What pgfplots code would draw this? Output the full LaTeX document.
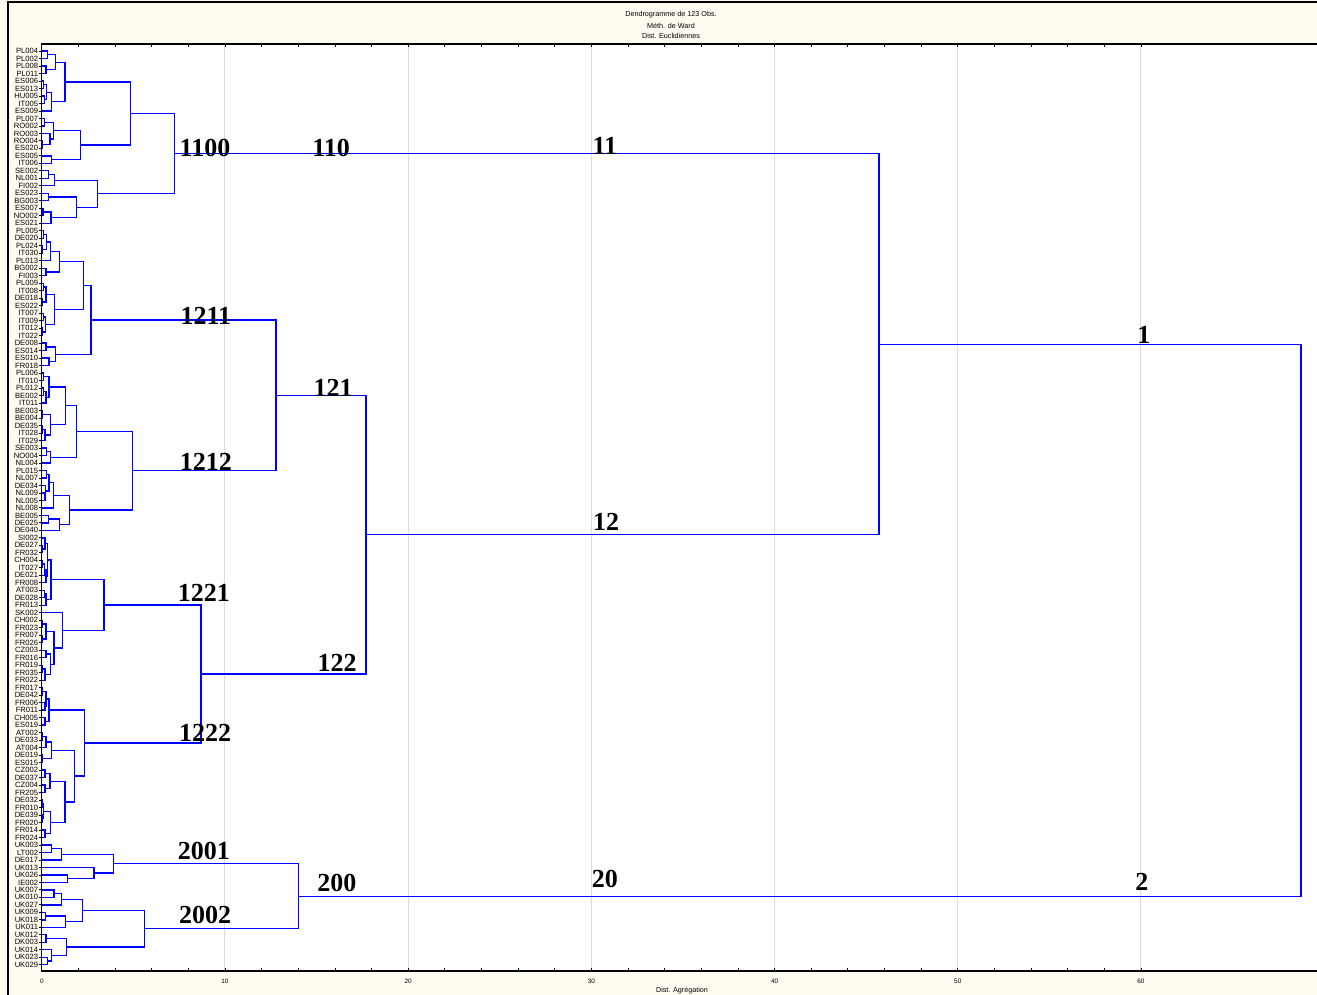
\documentclass[border=0pt]{standalone}
\usepackage{pgfplots}
\pgfplotsset{compat=1.18}
\usepackage{fontspec}
\newfontfamily\arial{Liberation Sans}
\newfontfamily\tnr{Liberation Serif}
\definecolor{cream}{RGB}{255,251,240}
\definecolor{dblue}{RGB}{0,0,255}
\definecolor{gridgray}{RGB}{218,218,218}
\pgfplotsset{dl/.style={draw=dblue, line width=0.65pt, mark=none, solid}}
\begin{document}
\begin{tikzpicture}[x=1pt,y=1pt]
\fill[cream] (0,0) rectangle (658.5,497.5);
\begin{axis}[
  at={(20.9pt,12pt)}, anchor=south west,
  scale only axis, width=638.6pt, height=463.5pt,
  xmin=0, xmax=69.72, ymin=0.065, ymax=123.83, y dir=reverse,
  axis background/.style={fill=white},
  axis line style={black, line width=0.6pt},
  xtick={0,10,...,60}, minor x tick num=4,
  ytick={1,...,123}, ytick pos=left,
  yticklabels={PL004,PL002,PL008,PL011,ES006,ES013,HU005,IT005,ES009,PL007,RO002,RO003,RO004,ES020,ES005,IT006,SE002,NL001,FI002,ES023,BG003,ES007,NO002,ES021,PL005,DE020,PL024,IT030,PL013,BG002,FI003,PL009,IT008,DE018,ES022,IT007,IT009,IT012,IT022,DE008,ES014,ES010,FR018,PL006,IT010,PL012,BE002,IT011,BE003,BE004,DE035,IT028,IT029,SE003,NO004,NL004,PL015,NL007,DE034,NL009,NL005,NL008,BE005,DE025,DE040,SI002,DE027,FR032,CH004,IT027,DE021,FR008,AT003,DE028,FR013,SK002,CH002,FR023,FR007,FR026,CZ003,FR016,FR019,FR035,FR022,FR017,DE042,FR006,FR011,CH005,ES019,AT002,DE033,AT004,DE019,ES015,CZ002,DE037,CZ004,FR205,DE032,FR010,DE039,FR020,FR014,FR024,UK003,LT002,DE017,UK013,UK026,IE002,UK007,UK010,UK027,UK009,UK018,UK011,UK012,DK003,UK014,UK023,UK029},
  xmajorgrids, major grid style={gridgray, line width=0.5pt},
  tick align=inside,
  major tick length=1.5pt, minor tick length=1.5pt,
  tick style={black, line width=0.4pt},
  y tick style={xshift=-1.2pt},
  /pgf/number format/assume math mode=true,
  xticklabel style={font=\arial\fontsize{3.2}{3.5}\selectfont, yshift=-0.3pt},
  yticklabel style={font=\arial\fontsize{3.8}{4}\selectfont, inner sep=0.6pt, xshift=-1.1pt},
]
% cluster 1100
\addplot[dl] coordinates {(0,1) (0.30,1) (0.30,2) (0,2)};
\addplot[dl] coordinates {(0,3) (0.23,3) (0.23,4) (0,4)};
\addplot[dl] coordinates {(0.30,1.5) (0.76,1.5) (0.76,3.5) (0.23,3.5)};
\addplot[dl] coordinates {(0,5) (0.10,5) (0.10,6) (0,6)};
\addplot[dl] coordinates {(0,7) (0.16,7) (0.16,8) (0,8)};
\addplot[dl] coordinates {(0.10,5.5) (0.27,5.5) (0.27,7.5) (0.16,7.5)};
\addplot[dl] coordinates {(0.27,6.5) (0.54,6.5) (0.54,9) (0,9)};
\addplot[dl] coordinates {(0.76,2.5) (1.27,2.5) (1.27,7.75) (0.54,7.75)};
\addplot[dl] coordinates {(0,10) (0.16,10) (0.16,11) (0,11)};
\addplot[dl] coordinates {(0,13) (0.04,13) (0.04,14) (0,14)};
\addplot[dl] coordinates {(0,12) (0.45,12) (0.45,13.5) (0.04,13.5)};
\addplot[dl] coordinates {(0.16,10.5) (0.63,10.5) (0.63,12.75) (0.45,12.75)};
\addplot[dl] coordinates {(0,15) (0.52,15) (0.52,16) (0,16)};
\addplot[dl] coordinates {(0.63,11.625) (2.10,11.625) (2.10,15.5) (0.52,15.5)};
\addplot[dl] coordinates {(1.27,5.125) (4.85,5.125) (4.85,13.5625) (2.10,13.5625)};
\addplot[dl] coordinates {(0,17) (0.36,17) (0.36,18) (0,18)};
\addplot[dl] coordinates {(0.36,17.5) (0.68,17.5) (0.68,19) (0,19)};
\addplot[dl] coordinates {(0,20) (0.36,20) (0.36,21) (0,21)};
\addplot[dl] coordinates {(0,22) (0.07,22) (0.07,23) (0,23)};
\addplot[dl] coordinates {(0.07,22.5) (0.50,22.5) (0.50,24) (0,24)};
\addplot[dl] coordinates {(0.36,20.5) (1.88,20.5) (1.88,23.25) (0.50,23.25)};
\addplot[dl] coordinates {(0.68,18.25) (3.05,18.25) (3.05,21.875) (1.88,21.875)};
\addplot[dl] coordinates {(4.85,9.34375) (7.23,9.34375) (7.23,20.0625) (3.05,20.0625)};
% cluster 1211
\addplot[dl] coordinates {(0,25) (0.08,25) (0.08,26) (0,26)};
\addplot[dl] coordinates {(0,27) (0.03,27) (0.03,28) (0,28)};
\addplot[dl] coordinates {(0.08,25.5) (0.27,25.5) (0.27,27.5) (0.03,27.5)};
\addplot[dl] coordinates {(0.27,26.5) (0.48,26.5) (0.48,29) (0,29)};
\addplot[dl] coordinates {(0,30) (0.23,30) (0.23,31) (0,31)};
\addplot[dl] coordinates {(0.48,27.75) (0.96,27.75) (0.96,30.5) (0.23,30.5)};
\addplot[dl] coordinates {(0,32) (0.08,32) (0.08,33) (0,33)};
\addplot[dl] coordinates {(0,34) (0.03,34) (0.03,35) (0,35)};
\addplot[dl] coordinates {(0.08,32.5) (0.23,32.5) (0.23,34.5) (0.03,34.5)};
\addplot[dl] coordinates {(0,36) (0.08,36) (0.08,37) (0,37)};
\addplot[dl] coordinates {(0,38) (0.03,38) (0.03,39) (0,39)};
\addplot[dl] coordinates {(0.08,36.5) (0.20,36.5) (0.20,38.5) (0.03,38.5)};
\addplot[dl] coordinates {(0.23,33.5) (0.68,33.5) (0.68,37.5) (0.20,37.5)};
\addplot[dl] coordinates {(0.96,29.125) (2.26,29.125) (2.26,35.5) (0.68,35.5)};
\addplot[dl] coordinates {(0,40) (0.23,40) (0.23,41) (0,41)};
\addplot[dl] coordinates {(0,42) (0.39,42) (0.39,43) (0,43)};
\addplot[dl] coordinates {(0.23,40.5) (0.74,40.5) (0.74,42.5) (0.39,42.5)};
\addplot[dl] coordinates {(2.26,32.3125) (2.69,32.3125) (2.69,41.5) (0.74,41.5)};
% cluster 1212
\addplot[dl] coordinates {(0,44) (0.10,44) (0.10,45) (0,45)};
\addplot[dl] coordinates {(0,46) (0.08,46) (0.08,47) (0,47)};
\addplot[dl] coordinates {(0.08,46.5) (0.23,46.5) (0.23,48) (0,48)};
\addplot[dl] coordinates {(0.10,44.5) (0.39,44.5) (0.39,47.25) (0.23,47.25)};
\addplot[dl] coordinates {(0,49) (0.03,49) (0.03,50) (0,50)};
\addplot[dl] coordinates {(0,51) (0.05,51) (0.05,52) (0,52)};
\addplot[dl] coordinates {(0.05,51.5) (0.17,51.5) (0.17,53) (0,53)};
\addplot[dl] coordinates {(0.03,49.5) (0.47,49.5) (0.47,52.25) (0.17,52.25)};
\addplot[dl] coordinates {(0.39,45.875) (1.30,45.875) (1.30,50.875) (0.47,50.875)};
\addplot[dl] coordinates {(0,54) (0.27,54) (0.27,55) (0,55)};
\addplot[dl] coordinates {(0.27,54.5) (0.48,54.5) (0.48,56) (0,56)};
\addplot[dl] coordinates {(1.30,48.375) (1.88,48.375) (1.88,55.25) (0.48,55.25)};
\addplot[dl] coordinates {(0,57) (0.27,57) (0.27,58) (0,58)};
\addplot[dl] coordinates {(0,60) (0.17,60) (0.17,61) (0,61)};
\addplot[dl] coordinates {(0,59) (0.22,59) (0.22,60.5) (0.17,60.5)};
\addplot[dl] coordinates {(0.27,57.5) (0.39,57.5) (0.39,59.75) (0.22,59.75)};
\addplot[dl] coordinates {(0.39,58.625) (0.63,58.625) (0.63,62) (0,62)};
\addplot[dl] coordinates {(0,63) (0.36,63) (0.36,64) (0,64)};
\addplot[dl] coordinates {(0.36,63.5) (0.95,63.5) (0.95,65) (0,65)};
\addplot[dl] coordinates {(0.63,60.3125) (1.50,60.3125) (1.50,64.25) (0.95,64.25)};
\addplot[dl] coordinates {(1.88,51.8125) (4.94,51.8125) (4.94,62.28125) (1.50,62.28125)};
% node 121
\addplot[dl] coordinates {(2.69,36.90625) (12.78,36.90625) (12.78,57.046875) (4.94,57.046875)};
% cluster 1221
\addplot[dl] coordinates {(0,67) (0.03,67) (0.03,68) (0,68)};
\addplot[dl] coordinates {(0,66) (0.17,66) (0.17,67.5) (0.03,67.5)};
\addplot[dl] coordinates {(0,69) (0.03,69) (0.03,70) (0,70)};
\addplot[dl] coordinates {(0.03,69.5) (0.13,69.5) (0.13,71) (0,71)};
\addplot[dl] coordinates {(0.13,70.25) (0.23,70.25) (0.23,72) (0,72)};
\addplot[dl] coordinates {(0.17,66.75) (0.30,66.75) (0.30,71.125) (0.23,71.125)};
\addplot[dl] coordinates {(0,73) (0.13,73) (0.13,74) (0,74)};
\addplot[dl] coordinates {(0.13,73.5) (0.23,73.5) (0.23,75) (0,75)};
\addplot[dl] coordinates {(0.30,68.9375) (0.50,68.9375) (0.50,74.25) (0.23,74.25)};
\addplot[dl] coordinates {(0,77) (0.05,77) (0.05,78) (0,78)};
\addplot[dl] coordinates {(0,79) (0.05,79) (0.05,80) (0,80)};
\addplot[dl] coordinates {(0.05,77.5) (0.23,77.5) (0.23,79.5) (0.05,79.5)};
\addplot[dl] coordinates {(0,81) (0.23,81) (0.23,82) (0,82)};
\addplot[dl] coordinates {(0,83) (0.05,83) (0.05,84) (0,84)};
\addplot[dl] coordinates {(0.05,83.5) (0.17,83.5) (0.17,85) (0,85)};
\addplot[dl] coordinates {(0.23,81.5) (0.48,81.5) (0.48,84.25) (0.17,84.25)};
\addplot[dl] coordinates {(0.23,78.5) (0.66,78.5) (0.66,82.875) (0.48,82.875)};
\addplot[dl] coordinates {(0,76) (1.14,76) (1.14,80.6875) (0.66,80.6875)};
\addplot[dl] coordinates {(0.50,71.59375) (3.39,71.59375) (3.39,78.34375) (1.14,78.34375)};
% cluster 1222
\addplot[dl] coordinates {(0,86) (0.03,86) (0.03,87) (0,87)};
\addplot[dl] coordinates {(0,88) (0.17,88) (0.17,89) (0,89)};
\addplot[dl] coordinates {(0.03,86.5) (0.23,86.5) (0.23,88.5) (0.17,88.5)};
\addplot[dl] coordinates {(0,90) (0.17,90) (0.17,91) (0,91)};
\addplot[dl] coordinates {(0.23,87.5) (0.39,87.5) (0.39,90.5) (0.17,90.5)};
\addplot[dl] coordinates {(0,92) (0.05,92) (0.05,93) (0,93)};
\addplot[dl] coordinates {(0.05,92.5) (0.23,92.5) (0.23,94) (0,94)};
\addplot[dl] coordinates {(0,95) (0.03,95) (0.03,96) (0,96)};
\addplot[dl] coordinates {(0.23,93.25) (0.54,93.25) (0.54,95.5) (0.03,95.5)};
\addplot[dl] coordinates {(0,97) (0.17,97) (0.17,98) (0,98)};
\addplot[dl] coordinates {(0,99) (0.17,99) (0.17,100) (0,100)};
\addplot[dl] coordinates {(0.17,97.5) (0.45,97.5) (0.45,99.5) (0.17,99.5)};
\addplot[dl] coordinates {(0,101) (0.03,101) (0.03,102) (0,102)};
\addplot[dl] coordinates {(0,103) (0.05,103) (0.05,104) (0,104)};
\addplot[dl] coordinates {(0.03,101.5) (0.10,101.5) (0.10,103.5) (0.05,103.5)};
\addplot[dl] coordinates {(0,105) (0.17,105) (0.17,106) (0,106)};
\addplot[dl] coordinates {(0.10,102.5) (0.48,102.5) (0.48,105.5) (0.17,105.5)};
\addplot[dl] coordinates {(0.45,98.5) (1.27,98.5) (1.27,104) (0.48,104)};
\addplot[dl] coordinates {(0.54,94.375) (1.77,94.375) (1.77,101.25) (1.27,101.25)};
\addplot[dl] coordinates {(0.39,89) (2.32,89) (2.32,97.8125) (1.77,97.8125)};
% nodes 122, 12, 1
\addplot[dl] coordinates {(3.39,74.96875) (8.69,74.96875) (8.69,93.40625) (2.32,93.40625)};
\addplot[dl] coordinates {(12.78,46.9765625) (17.70,46.9765625) (17.70,84.1875) (8.69,84.1875)};
\addplot[dl] coordinates {(7.23,14.703125) (45.70,14.703125) (45.70,65.58203) (17.70,65.58203)};
% cluster 2
\addplot[dl] coordinates {(0,107) (0.54,107) (0.54,108) (0,108)};
\addplot[dl] coordinates {(0.54,107.5) (1.08,107.5) (1.08,109) (0,109)};
\addplot[dl] coordinates {(0,111) (1.39,111) (1.39,112) (0,112)};
\addplot[dl] coordinates {(0,110) (2.85,110) (2.85,111.5) (1.39,111.5)};
\addplot[dl] coordinates {(1.08,108.25) (3.90,108.25) (3.90,110.75) (2.85,110.75)};
\addplot[dl] coordinates {(0,113) (0.66,113) (0.66,114) (0,114)};
\addplot[dl] coordinates {(0.66,113.5) (1.08,113.5) (1.08,115) (0,115)};
\addplot[dl] coordinates {(0,116) (0.21,116) (0.21,117) (0,117)};
\addplot[dl] coordinates {(0.21,116.5) (1.28,116.5) (1.28,118) (0,118)};
\addplot[dl] coordinates {(1.08,114.25) (2.23,114.25) (2.23,117.25) (1.28,117.25)};
\addplot[dl] coordinates {(0,119) (0.23,119) (0.23,120) (0,120)};
\addplot[dl] coordinates {(0,122) (0.32,122) (0.32,123) (0,123)};
\addplot[dl] coordinates {(0,121) (0.54,121) (0.54,122.5) (0.32,122.5)};
\addplot[dl] coordinates {(0.23,119.5) (1.36,119.5) (1.36,121.75) (0.54,121.75)};
\addplot[dl] coordinates {(2.23,115.75) (5.60,115.75) (5.60,120.625) (1.36,120.625)};
\addplot[dl] coordinates {(3.90,109.5) (14.02,109.5) (14.02,118.1875) (5.60,118.1875)};
% root
\addplot[dl] coordinates {(45.70,40.14258) (68.73,40.14258) (68.73,113.84375) (14.02,113.84375)};
% group labels
\begin{scope}[every node/.style={font=\tnr\bfseries\fontsize{13}{13}\selectfont, inner sep=0pt, text=black}]
\node at (axis cs:8.91,13.95) {1100};
\node at (axis cs:15.79,13.95) {110};
\node at (axis cs:30.74,13.68) {11};
\node at (axis cs:8.96,36.38) {1211};
\node at (axis cs:15.90,46.0) {121};
\node at (axis cs:8.96,55.87) {1212};
\node at (axis cs:30.80,63.88) {12};
\node at (axis cs:60.16,38.92) {1};
\node at (axis cs:8.85,73.37) {1221};
\node at (axis cs:16.12,82.71) {122};
\node at (axis cs:8.91,92.06) {1222};
\node at (axis cs:8.85,107.74) {2001};
\node at (axis cs:8.91,116.35) {2002};
\node at (axis cs:16.11,112.08) {200};
\node at (axis cs:30.74,111.55) {20};
\node at (axis cs:60.05,111.95) {2};
\end{scope}
\end{axis}
% titles
\node[font=\arial\fontsize{3.6}{4}\selectfont, inner sep=0pt] at (335.5,490) {Dendrogramme de 123 Obs.};
\node[font=\arial\fontsize{3.6}{4}\selectfont, inner sep=0pt] at (335.5,484.5) {Méth. de Ward};
\node[font=\arial\fontsize{3.6}{4}\selectfont, inner sep=0pt] at (335.5,479.5) {Dist. Euclidiennes};
\node[font=\arial\fontsize{3.6}{4}\selectfont, inner sep=0pt] at (341,2.4) {Dist. Agrégation};
% frame lines
\draw[black, line width=1pt] (4.15,0) -- (4.15,496.6);
\draw[black, line width=1pt] (3.65,496.6) -- (658.5,496.6);
\pgfresetboundingbox
\path[use as bounding box] (0,0) rectangle (658.5,497.5);
\end{tikzpicture}
\end{document}
